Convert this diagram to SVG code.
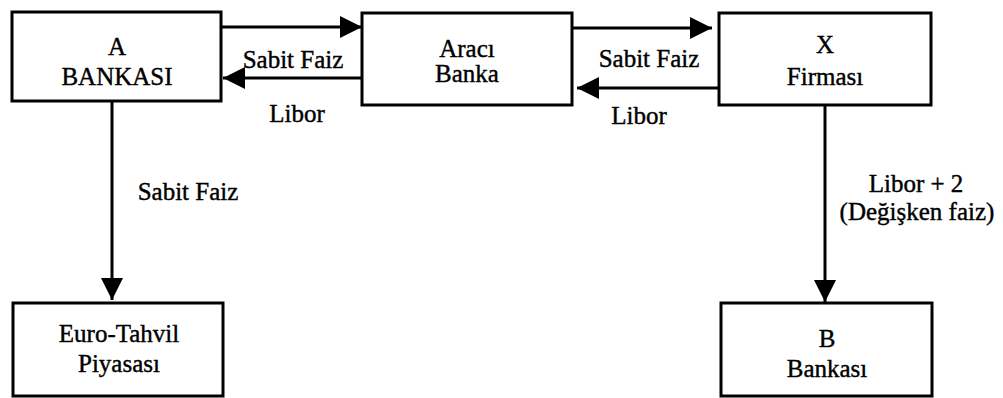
<svg xmlns="http://www.w3.org/2000/svg" width="1003" height="398" viewBox="0 0 1003 398">
  <style>
    .box { fill: #fff; stroke: #000; stroke-width: 3; }
    .lbl { font-family: "Liberation Serif", "DejaVu Serif", "Times New Roman", serif; font-size: 25px; fill: #000; stroke: #000; stroke-width: 0.4; text-anchor: middle; }
    .edge { stroke: #000; stroke-width: 3; fill: none; }
  </style>
  <defs>
    <marker id="head" markerUnits="userSpaceOnUse" markerWidth="22" markerHeight="22" refX="22" refY="11" orient="auto">
      <path d="M0,0 L22,11 L0,22 z" fill="#000"/>
    </marker>
  </defs>
  <rect width="1003" height="398" fill="#fff"/>

  <g id="a-bankasi">
    <rect class="box" x="12" y="12" width="209" height="89"/>
    <text class="lbl" x="117" y="55">A</text>
    <text class="lbl" x="117" y="85">BANKASI</text>
  </g>
  <g id="araci-banka">
    <rect class="box" x="362" y="13" width="210" height="92"/>
    <text class="lbl" x="467" y="57">Aracı</text>
    <text class="lbl" x="467" y="82">Banka</text>
  </g>
  <g id="x-firmasi">
    <rect class="box" x="719" y="13" width="212" height="92"/>
    <text class="lbl" x="825" y="53">X</text>
    <text class="lbl" x="825" y="85">Firması</text>
  </g>
  <g id="euro-tahvil">
    <rect class="box" x="13" y="303" width="210" height="93"/>
    <text class="lbl" x="119" y="342">Euro-Tahvil</text>
    <text class="lbl" x="119" y="372">Piyasası</text>
  </g>
  <g id="b-bankasi">
    <rect class="box" x="721" y="303" width="211" height="93"/>
    <text class="lbl" x="827" y="347">B</text>
    <text class="lbl" x="827" y="377">Bankası</text>
  </g>

  <g id="connectors">
    <path class="edge" d="M221,27 L362,27" marker-end="url(#head)"/>
    <path class="edge" d="M362,78 L223,78" marker-end="url(#head)"/>
    <path class="edge" d="M572,28 L712,28" marker-end="url(#head)"/>
    <path class="edge" d="M719,88 L577,88" marker-end="url(#head)"/>
    <path class="edge" d="M112,101 L112,300" marker-end="url(#head)"/>
    <path class="edge" d="M825,105 L825,302" marker-end="url(#head)"/>
    <text class="lbl" x="293" y="68">Sabit Faiz</text>
    <text class="lbl" x="297" y="122">Libor</text>
    <text class="lbl" x="649" y="67">Sabit Faiz</text>
    <text class="lbl" x="639" y="124">Libor</text>
    <text class="lbl" x="188" y="200">Sabit Faiz</text>
    <text class="lbl" x="916" y="192">Libor + 2</text>
    <text class="lbl" x="917" y="220">(Değişken faiz)</text>
  </g>
</svg>
